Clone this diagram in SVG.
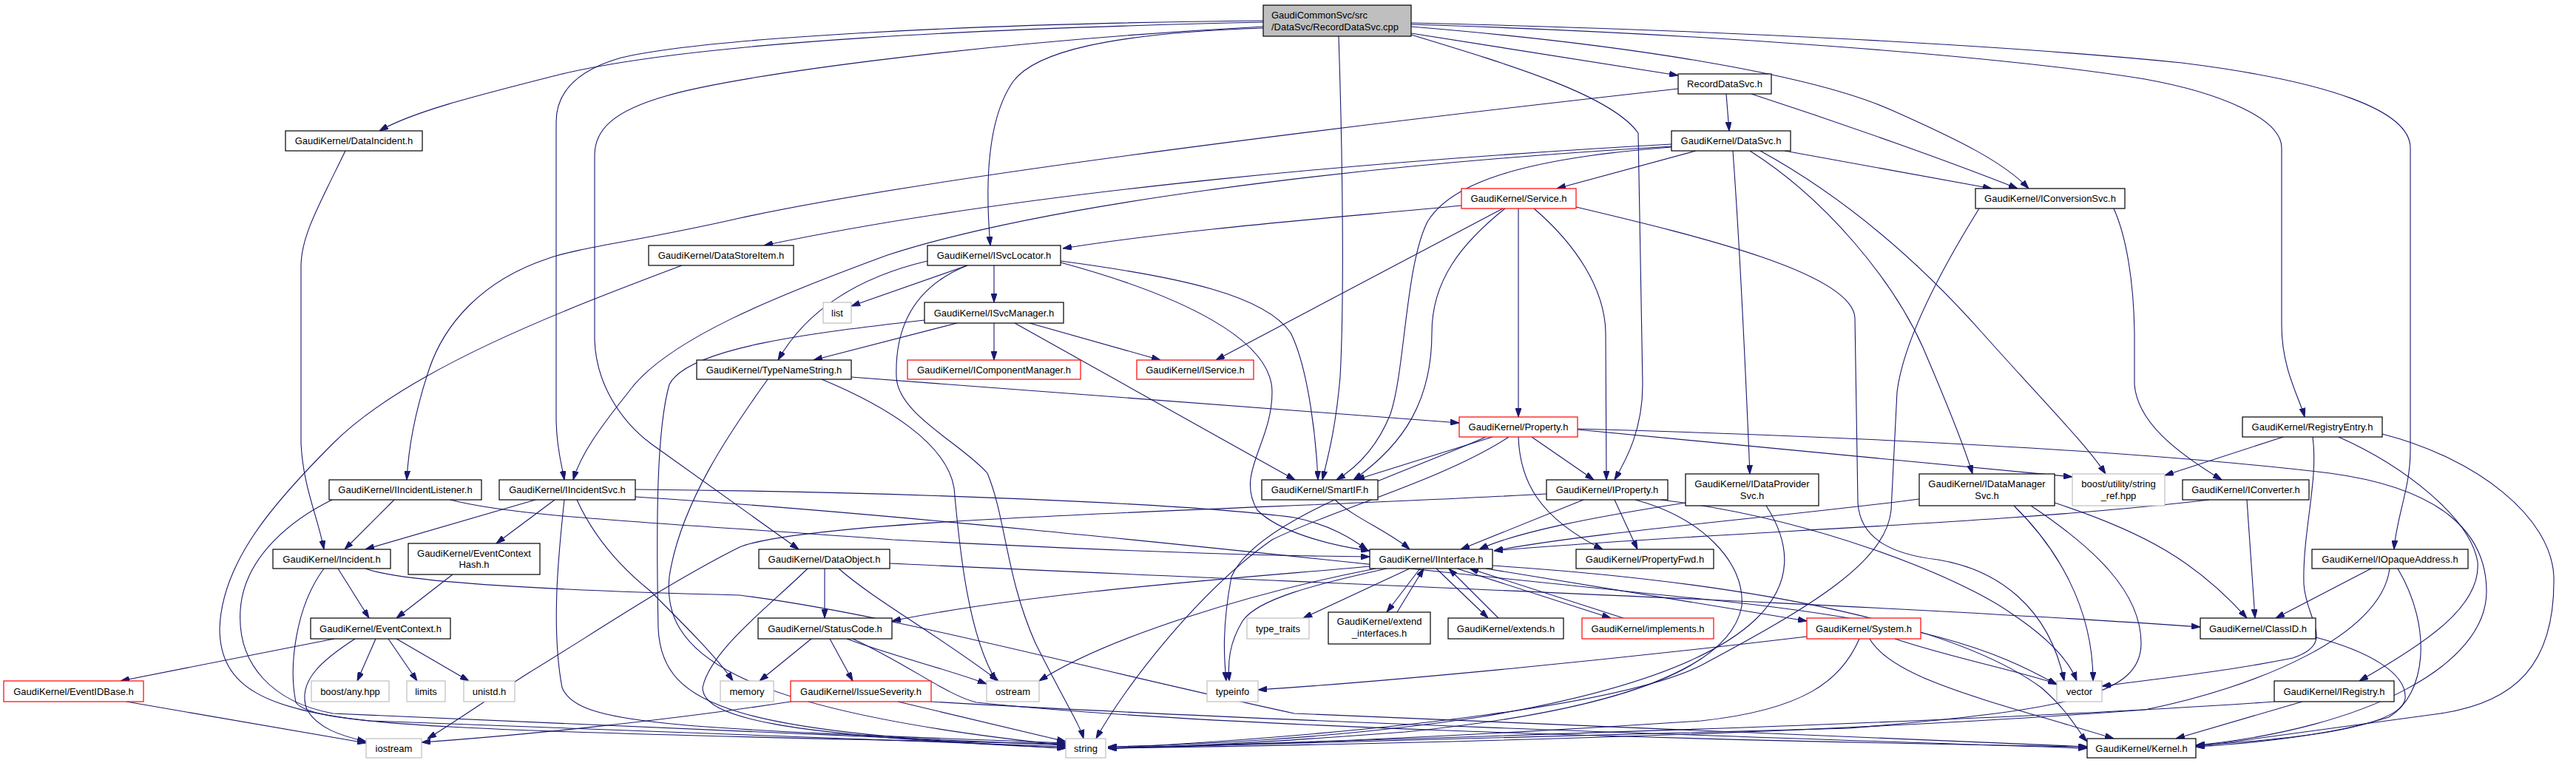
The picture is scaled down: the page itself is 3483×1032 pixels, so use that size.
<svg xmlns="http://www.w3.org/2000/svg" width="3483" height="1032" viewBox="0 0 3483 1032">
<style>
.e{fill:none;stroke:#191970;stroke-width:1.1;marker-end:url(#a)}
.n rect{fill:#fff;stroke:#000;stroke-width:1.2}
.n.r rect{stroke:#f00}
.n.g rect{stroke:#bfbfbf}
.n.root rect{fill:#bfbfbf}
text{font-family:"Liberation Sans",Arial,sans-serif;font-size:13px;fill:#000;text-anchor:middle}
.l{text-anchor:start}
</style>
<defs>
<marker id="a" viewBox="0 0 12 8" refX="12" refY="4" markerWidth="12" markerHeight="8" markerUnits="userSpaceOnUse" orient="auto">
<path d="M0,0 L12,4 L0,8 z" fill="#191970" stroke="#191970"/>
</marker>
</defs>
<rect width="3483" height="1032" fill="#fff"/>
<g id="edges">
<path class="e" d="M1708,30 C1350,38 950,55 760,100 C650,128 560,150 513,177"/>
<path class="e" d="M1708,28 C1300,32 950,52 840,78 C780,95 752,125 752,165 L752,570 C753,610 760,630 763,649"/>
<path class="e" d="M1708,36 C1350,55 1000,100 900,130 C830,150 804,175 804,210 L804,460 C806,520 840,570 880,600 L1080,743"/>
<path class="e" d="M1708,38 C1500,45 1400,70 1370,110 C1335,160 1332,250 1339,332"/>
<path class="e" d="M1810,49 C1815,200 1818,400 1812,510 C1806,580 1795,620 1788,649"/>
<path class="e" d="M1908,47 C2050,90 2180,130 2215,180 L2221,520 C2221,580 2200,620 2183,649"/>
<path class="e" d="M1908,45 L2269,102"/>
<path class="e" d="M1908,36 C2200,60 2450,100 2560,150 C2650,190 2710,220 2743,255"/>
<path class="e" d="M1908,31 C2300,40 2700,60 2950,85 C3150,110 3259,150 3259,200 L3259,610 C3259,660 3240,700 3237,743"/>
<path class="e" d="M1908,33 C2300,45 2700,75 2900,107 C3000,125 3085,160 3085,200 L3085,440 C3085,500 3110,540 3116,564"/>
<path class="e" d="M2334,127 L2338,177"/>
<path class="e" d="M2368,127 C2500,170 2640,220 2728,255"/>
<path class="e" d="M2269,120 C2000,150 1300,230 1000,295 C870,325 780,335 740,350 C650,380 600,440 580,500 C560,560 552,610 550,649"/>
<path class="e" d="M2293,204 L2105,255"/>
<path class="e" d="M2260,195 C1900,215 1400,255 1033,332"/>
<path class="e" d="M2260,198 C1800,225 1400,280 1200,345 C1050,400 900,460 850,530 C810,580 785,615 775,649"/>
<path class="e" d="M2260,199 C2050,215 1960,250 1930,300 C1900,360 1900,500 1880,560 C1860,610 1830,635 1807,649"/>
<path class="e" d="M2343,204 C2350,300 2356,400 2366,641"/>
<path class="e" d="M2366,204 C2470,270 2560,380 2600,470 C2630,540 2655,600 2667,641"/>
<path class="e" d="M2380,204 C2500,270 2600,360 2680,450 C2760,540 2820,600 2847,641"/>
<path class="e" d="M2413,204 L2693,255"/>
<path class="e" d="M1976,278 C1800,295 1600,310 1437,336"/>
<path class="e" d="M2032,282 L1644,487"/>
<path class="e" d="M2035,282 C1975,330 1936,380 1936,450 C1936,540 1900,600 1830,649"/>
<path class="e" d="M2053,282 L2053,564"/>
<path class="e" d="M2074,282 C2130,330 2170,390 2171,450 L2172,649"/>
<path class="e" d="M2131,280 C2300,320 2505,370 2508,430 L2512,680 C2515,730 2560,750 2620,757 C2700,770 2770,820 2791,921"/>
<path class="e" d="M1308,359 L1151,414"/>
<path class="e" d="M1344,359 L1344,409"/>
<path class="e" d="M1254,353 C1160,375 1090,420 1052,487"/>
<path class="e" d="M1308,359 C1230,390 1210,450 1212,510 C1214,560 1300,600 1335,640 C1360,700 1360,780 1400,870 C1440,950 1460,980 1465,999"/>
<path class="e" d="M1434,353 C1600,375 1710,400 1745,450 C1770,500 1780,600 1782,649"/>
<path class="e" d="M1434,355 C1600,400 1720,460 1720,530 C1720,600 1670,640 1700,690 C1730,720 1800,738 1852,745"/>
<path class="e" d="M1250,433 C1100,450 930,470 905,520 C888,580 887,700 890,850 C895,960 1000,990 1441,1012"/>
<path class="e" d="M1294,437 L1100,487"/>
<path class="e" d="M1344,437 L1344,487"/>
<path class="e" d="M1372,437 L1751,649"/>
<path class="e" d="M1392,437 L1569,487"/>
<path class="e" d="M1038,513 C990,580 920,680 905,780 C895,880 980,960 1441,1008"/>
<path class="e" d="M1111,513 C1200,550 1280,600 1290,660 C1298,750 1310,860 1347,921"/>
<path class="e" d="M1151,510 L1973,572"/>
<path class="e" d="M2018,591 L1833,649"/>
<path class="e" d="M2071,591 L2155,649"/>
<path class="e" d="M2053,591 C2055,650 2080,700 2167,743"/>
<path class="e" d="M2133,581 L2802,645"/>
<path class="e" d="M2133,580 C2500,590 2900,610 3150,640 C3300,660 3362,720 3362,800 C3362,900 3200,985 2969,1008"/>
<path class="e" d="M2009,591 C1900,640 1700,700 1665,780 C1652,850 1655,890 1658,921"/>
<path class="e" d="M2040,591 C1950,650 1800,690 1720,730 C1620,800 1520,930 1482,999"/>
<path class="e" d="M2141,676 L1975,743"/>
<path class="e" d="M2091,668 C1700,690 1100,700 1000,740 C900,790 790,865 715,910 C660,945 610,980 578,999"/>
<path class="e" d="M2183,676 L2214,743"/>
<path class="e" d="M2211,676 C2300,700 2360,760 2355,820 C2340,900 2200,960 1900,990 C1700,1005 1600,1010 1498,1012"/>
<path class="e" d="M2245,676 C2450,700 2650,780 2720,830 C2780,870 2800,900 2808,921"/>
<path class="e" d="M2279,680 C2150,700 2050,720 2000,743"/>
<path class="e" d="M2388,684 C2450,780 2420,900 2000,970 C1800,1000 1600,1008 1498,1010"/>
<path class="e" d="M2595,675 C2400,700 2150,720 2020,745"/>
<path class="e" d="M2723,684 C2780,740 2830,820 2830,921"/>
<path class="e" d="M2746,684 C2830,740 2895,800 2895,870 C2895,940 2800,960 2500,985 L1498,1012"/>
<path class="e" d="M2778,680 C2900,720 2970,760 3038,836"/>
<path class="e" d="M2987,676 C2700,710 2300,720 2020,745"/>
<path class="e" d="M3038,676 L3049,836"/>
<path class="e" d="M2858,282 C2875,320 2885,380 2886,450 L2886,520 C2890,570 2940,610 3004,649"/>
<path class="e" d="M2676,282 C2640,340 2575,450 2565,530 L2557,690 C2550,760 2450,820 2300,900 C2200,950 1900,990 1498,1012"/>
<path class="e" d="M724,676 L494,743"/>
<path class="e" d="M750,676 L671,735"/>
<path class="e" d="M859,662 C1200,665 1600,680 1750,700 C1800,710 1830,730 1849,744"/>
<path class="e" d="M763,676 C755,750 745,850 760,930 C780,980 900,985 1441,1005"/>
<path class="e" d="M780,676 C800,720 830,760 880,800 C930,850 970,890 991,921"/>
<path class="e" d="M859,672 C1300,700 1900,770 2300,810 C2600,840 2700,880 2781,926"/>
<path class="e" d="M533,676 L466,743"/>
<path class="e" d="M609,676 C700,700 900,707 1207,730 C1500,745 1700,752 1852,753"/>
<path class="e" d="M449,676 C400,700 330,750 325,825 C320,900 370,950 450,965 L1441,1008"/>
<path class="e" d="M467,204 C430,280 407,320 407,360 L407,600 C410,660 430,700 438,743"/>
<path class="e" d="M922,359 C760,420 550,500 450,600 C370,680 300,760 297,850 C297,930 360,960 500,975 L1441,1010"/>
<path class="e" d="M457,769 L499,836"/>
<path class="e" d="M438,769 C400,820 390,900 400,950 C420,980 600,990 1441,1006"/>
<path class="e" d="M494,769 C550,790 800,800 1000,805 C1200,830 1450,900 1750,965 L2822,1010"/>
<path class="e" d="M612,777 L536,836"/>
<path class="e" d="M452,864 L163,921"/>
<path class="e" d="M480,864 C440,890 400,920 415,960 C430,985 460,995 495,1003"/>
<path class="e" d="M508,864 L483,921"/>
<path class="e" d="M525,864 L564,921"/>
<path class="e" d="M536,864 L634,921"/>
<path class="e" d="M171,949 L495,1005"/>
<path class="e" d="M1115,769 L1115,836"/>
<path class="e" d="M1134,769 C1180,810 1270,860 1350,921"/>
<path class="e" d="M1092,769 C1040,820 960,880 950,930 C950,970 1050,995 1441,1012"/>
<path class="e" d="M1203,762 C1800,790 2500,815 2975,848"/>
<path class="e" d="M1097,864 L1027,921"/>
<path class="e" d="M1122,864 L1153,921"/>
<path class="e" d="M1145,864 C1200,885 1280,905 1334,925"/>
<path class="e" d="M1153,864 C1230,900 1280,940 1320,950 C1600,980 2200,1000 2822,1010"/>
<path class="e" d="M1214,949 L1441,1003"/>
<path class="e" d="M1069,949 C900,975 700,995 570,1004"/>
<path class="e" d="M1259,949 C1700,975 2300,995 2822,1012"/>
<path class="e" d="M1920,769 L1875,828"/>
<path class="e" d="M1889,828 L1925,769"/>
<path class="e" d="M1942,769 L2012,836"/>
<path class="e" d="M2026,836 L1959,769"/>
<path class="e" d="M1970,769 L2178,836"/>
<path class="e" d="M2195,836 L1987,769"/>
<path class="e" d="M1906,769 L1762,836"/>
<path class="e" d="M2009,769 L2443,840"/>
<path class="e" d="M1852,766 C1700,780 1400,800 1206,840"/>
<path class="e" d="M1875,769 C1780,790 1700,810 1680,840 C1662,870 1660,895 1662,921"/>
<path class="e" d="M1860,769 C1700,800 1500,860 1405,921"/>
<path class="e" d="M2018,765 C2400,790 2650,850 2760,930 C2800,965 2810,990 2822,1003"/>
<path class="e" d="M1805,676 C1830,700 1880,720 1906,743"/>
<path class="e" d="M2443,861 C2200,890 1900,920 1701,933"/>
<path class="e" d="M2562,864 C2640,890 2720,905 2781,925"/>
<path class="e" d="M2514,864 C2490,920 2440,960 2300,975 C2000,995 1700,1008 1498,1012"/>
<path class="e" d="M2528,864 C2560,920 2700,950 2858,999"/>
<path class="e" d="M3113,949 L2942,999"/>
<path class="e" d="M3075,949 C2700,975 2200,990 1498,1012"/>
<path class="e" d="M3206,769 L3077,836"/>
<path class="e" d="M3231,769 C3220,860 3050,930 2900,960 C2500,990 2000,1005 1498,1012"/>
<path class="e" d="M3242,769 C3290,850 3280,940 3230,970 C3150,995 3050,1005 2969,1010"/>
<path class="e" d="M3087,591 L2927,643"/>
<path class="e" d="M3127,591 C3135,650 3113,720 3115,790 C3118,840 3160,870 3100,890 C3000,910 2900,920 2842,928"/>
<path class="e" d="M3162,591 C3250,630 3340,700 3350,760 C3355,820 3280,870 3190,921"/>
<path class="e" d="M3221,587 C3350,620 3450,700 3453,780 C3455,900 3400,950 3300,965 C3150,985 3050,1000 2969,1010"/>
<path class="e" d="M3131,862 C3200,880 3255,910 3252,945 C3245,985 3100,1000 2969,1008"/>
</g>
<g id="n0" class="n root"><rect x="1708" y="7" width="200" height="42"/><text class="l" x="1719" y="25">GaudiCommonSvc/src</text><text class="l" x="1719" y="41">/DataSvc/RecordDataSvc.cpp</text></g>
<g id="n1" class="n"><rect x="386" y="177" width="185" height="27"/><text x="478.5" y="195">GaudiKernel/DataIncident.h</text></g>
<g id="n2" class="n"><rect x="2269" y="100" width="126" height="27"/><text x="2332" y="118">RecordDataSvc.h</text></g>
<g id="n3" class="n"><rect x="2260" y="177" width="161" height="27"/><text x="2340.5" y="195">GaudiKernel/DataSvc.h</text></g>
<g id="n4" class="n r"><rect x="1976" y="255" width="155" height="27"/><text x="2053.5" y="273">GaudiKernel/Service.h</text></g>
<g id="n5" class="n"><rect x="2671" y="255" width="202" height="27"/><text x="2772" y="273">GaudiKernel/IConversionSvc.h</text></g>
<g id="n6" class="n"><rect x="877" y="332" width="196" height="27"/><text x="975" y="350">GaudiKernel/DataStoreItem.h</text></g>
<g id="n7" class="n"><rect x="1254" y="332" width="180" height="27"/><text x="1344" y="350">GaudiKernel/ISvcLocator.h</text></g>
<g id="n8" class="n g"><rect x="1113" y="409" width="38" height="28"/><text x="1132" y="428">list</text></g>
<g id="n9" class="n"><rect x="1250" y="409" width="188" height="28"/><text x="1344" y="428">GaudiKernel/ISvcManager.h</text></g>
<g id="n10" class="n"><rect x="942" y="487" width="209" height="26"/><text x="1046.5" y="504.5">GaudiKernel/TypeNameString.h</text></g>
<g id="n11" class="n r"><rect x="1227" y="487" width="234" height="26"/><text x="1344" y="504.5">GaudiKernel/IComponentManager.h</text></g>
<g id="n12" class="n r"><rect x="1537" y="487" width="158" height="26"/><text x="1616" y="504.5">GaudiKernel/IService.h</text></g>
<g id="n13" class="n r"><rect x="1973" y="564" width="160" height="27"/><text x="2053" y="582">GaudiKernel/Property.h</text></g>
<g id="n14" class="n"><rect x="3032" y="564" width="189" height="27"/><text x="3126.5" y="582">GaudiKernel/RegistryEntry.h</text></g>
<g id="n15" class="n"><rect x="445" y="649" width="206" height="27"/><text x="548" y="667">GaudiKernel/IIncidentListener.h</text></g>
<g id="n16" class="n"><rect x="675" y="649" width="184" height="27"/><text x="767" y="667">GaudiKernel/IIncidentSvc.h</text></g>
<g id="n17" class="n"><rect x="1706" y="649" width="157" height="27"/><text x="1784.5" y="667">GaudiKernel/SmartIF.h</text></g>
<g id="n18" class="n"><rect x="2091" y="649" width="164" height="27"/><text x="2173" y="667">GaudiKernel/IProperty.h</text></g>
<g id="n19" class="n"><rect x="2279" y="641" width="180" height="43"/><text x="2369" y="658.5">GaudiKernel/IDataProvider</text><text x="2369" y="674.5">Svc.h</text></g>
<g id="n20" class="n"><rect x="2595" y="641" width="183" height="43"/><text x="2686.5" y="658.5">GaudiKernel/IDataManager</text><text x="2686.5" y="674.5">Svc.h</text></g>
<g id="n21" class="n g"><rect x="2802" y="641" width="125" height="43"/><text x="2864.5" y="658.5">boost/utility/string</text><text x="2864.5" y="674.5">_ref.hpp</text></g>
<g id="n22" class="n"><rect x="2951" y="649" width="171" height="27"/><text x="3036.5" y="667">GaudiKernel/IConverter.h</text></g>
<g id="n23" class="n"><rect x="369" y="743" width="159" height="26"/><text x="448.5" y="760.5">GaudiKernel/Incident.h</text></g>
<g id="n24" class="n"><rect x="552" y="735" width="178" height="42"/><text x="641" y="752.5">GaudiKernel/EventContext</text><text x="641" y="768">Hash.h</text></g>
<g id="n25" class="n"><rect x="1026" y="743" width="177" height="26"/><text x="1114.5" y="760.5">GaudiKernel/DataObject.h</text></g>
<g id="n26" class="n"><rect x="1852" y="743" width="166" height="26"/><text x="1935" y="760.5">GaudiKernel/IInterface.h</text></g>
<g id="n27" class="n"><rect x="2131" y="743" width="186" height="26"/><text x="2224" y="760.5">GaudiKernel/PropertyFwd.h</text></g>
<g id="n28" class="n"><rect x="3126" y="743" width="211" height="26"/><text x="3231.5" y="760.5">GaudiKernel/IOpaqueAddress.h</text></g>
<g id="n29" class="n"><rect x="420" y="836" width="189" height="28"/><text x="514.5" y="854.5">GaudiKernel/EventContext.h</text></g>
<g id="n30" class="n"><rect x="1025" y="836" width="181" height="28"/><text x="1115.5" y="854.5">GaudiKernel/StatusCode.h</text></g>
<g id="n31" class="n g"><rect x="1686" y="836" width="84" height="28"/><text x="1728" y="854.5">type_traits</text></g>
<g id="n32" class="n"><rect x="1796" y="828" width="138" height="43"/><text x="1865" y="844.5">GaudiKernel/extend</text><text x="1865" y="860.5">_interfaces.h</text></g>
<g id="n33" class="n"><rect x="1958" y="836" width="156" height="28"/><text x="2036" y="854.5">GaudiKernel/extends.h</text></g>
<g id="n34" class="n r"><rect x="2139" y="836" width="178" height="28"/><text x="2228" y="854.5">GaudiKernel/implements.h</text></g>
<g id="n35" class="n r"><rect x="2443" y="836" width="154" height="28"/><text x="2520" y="854.5">GaudiKernel/System.h</text></g>
<g id="n36" class="n"><rect x="2975" y="836" width="156" height="28"/><text x="3053" y="854.5">GaudiKernel/ClassID.h</text></g>
<g id="n37" class="n r"><rect x="5" y="921" width="189" height="28"/><text x="99.5" y="939.5">GaudiKernel/EventIDBase.h</text></g>
<g id="n38" class="n g"><rect x="421" y="921" width="105" height="28"/><text x="473.5" y="939.5">boost/any.hpp</text></g>
<g id="n39" class="n g"><rect x="550" y="921" width="52" height="28"/><text x="576" y="939.5">limits</text></g>
<g id="n40" class="n g"><rect x="627" y="921" width="69" height="28"/><text x="661.5" y="939.5">unistd.h</text></g>
<g id="n41" class="n g"><rect x="974" y="921" width="72" height="28"/><text x="1010" y="939.5">memory</text></g>
<g id="n42" class="n r"><rect x="1069" y="921" width="190" height="28"/><text x="1164" y="939.5">GaudiKernel/IssueSeverity.h</text></g>
<g id="n43" class="n g"><rect x="1334" y="921" width="71" height="28"/><text x="1369.5" y="939.5">ostream</text></g>
<g id="n44" class="n g"><rect x="1632" y="921" width="69" height="28"/><text x="1666.5" y="939.5">typeinfo</text></g>
<g id="n45" class="n g"><rect x="2781" y="921" width="61" height="28"/><text x="2811.5" y="939.5">vector</text></g>
<g id="n46" class="n"><rect x="3075" y="921" width="162" height="28"/><text x="3156" y="939.5">GaudiKernel/IRegistry.h</text></g>
<g id="n47" class="n g"><rect x="495" y="999" width="75" height="26"/><text x="532.5" y="1016.5">iostream</text></g>
<g id="n48" class="n g"><rect x="1441" y="999" width="54" height="26"/><text x="1468" y="1016.5">string</text></g>
<g id="n49" class="n"><rect x="2822" y="999" width="147" height="26"/><text x="2895.5" y="1016.5">GaudiKernel/Kernel.h</text></g>
</svg>
